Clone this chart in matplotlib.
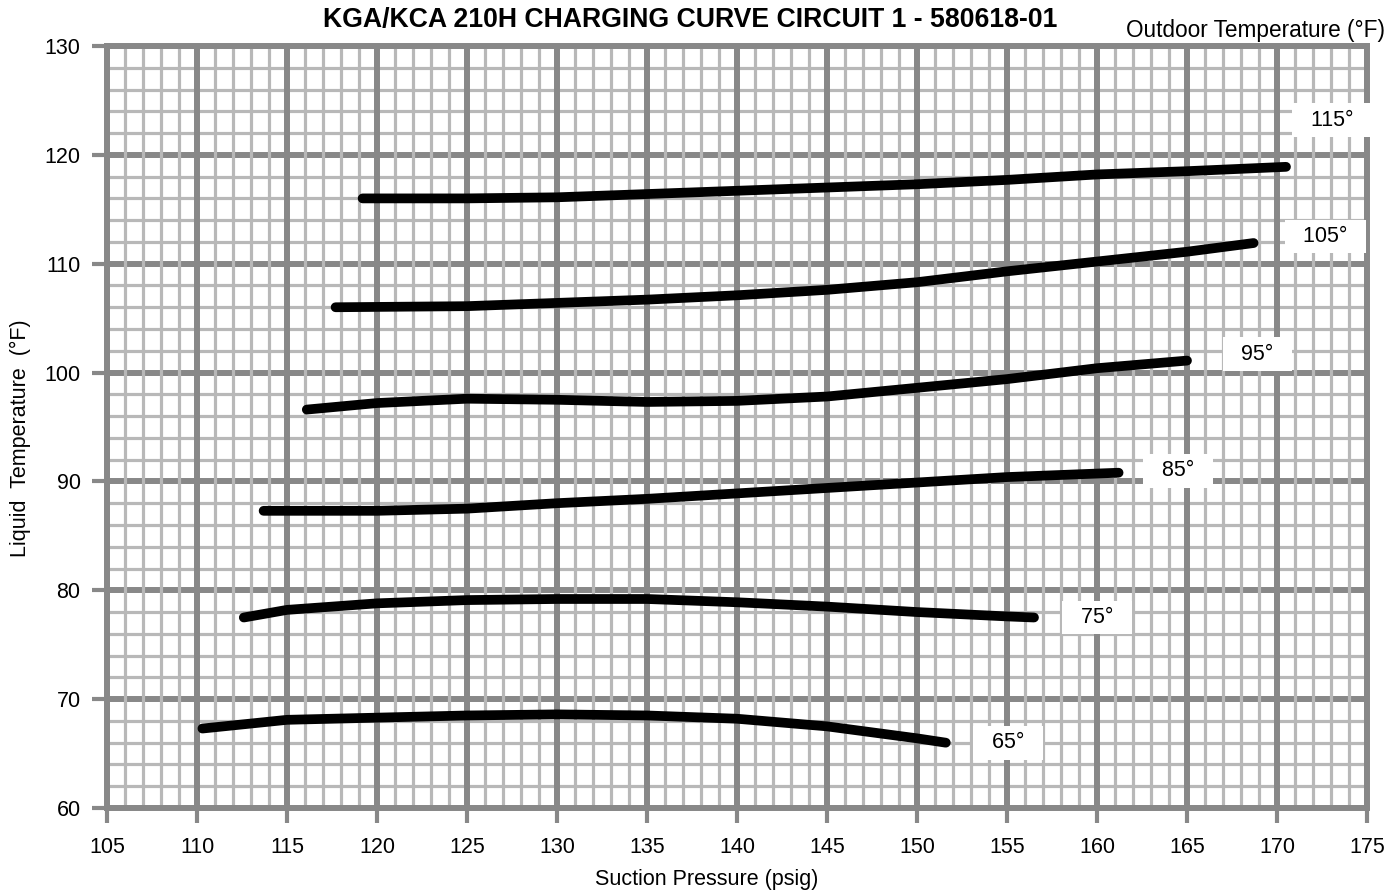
import matplotlib
matplotlib.use("Agg")
import matplotlib.pyplot as plt
import numpy as np
from matplotlib.ticker import MultipleLocator

plt.rcParams['font.family'] = ['Liberation Sans', 'DejaVu Sans']

title = "KGA/KCA 210H CHARGING CURVE CIRCUIT 1 - 580618-01"
x_label = "Suction Pressure (psig)"
y_label = "Liquid  Temperature  (°F)"
legend_title = "Outdoor Temperature (°F)"

# curves: outdoor temperature -> (suction pressure, liquid temperature)
x_65 = [110.3, 115, 120, 125, 130, 135, 140, 145, 150, 151.6]
y_65 = [67.3, 68.1, 68.3, 68.5, 68.6, 68.5, 68.2, 67.5, 66.4, 66.0]
x_75 = [112.6, 115, 120, 125, 130, 135, 140, 145, 150, 155, 156.5]
y_75 = [77.5, 78.2, 78.8, 79.1, 79.2, 79.2, 78.9, 78.5, 78.0, 77.6, 77.5]
x_85 = [113.7, 120, 125, 130, 135, 140, 145, 150, 155, 161.2]
y_85 = [87.3, 87.3, 87.5, 88.0, 88.4, 88.9, 89.4, 89.9, 90.4, 90.8]
x_95 = [116.1, 120, 125, 130, 135, 140, 145, 150, 155, 160, 165.0]
y_95 = [96.6, 97.2, 97.6, 97.5, 97.3, 97.4, 97.8, 98.6, 99.4, 100.4, 101.1]
x_105 = [117.7, 125, 130, 135, 140, 145, 150, 155, 160, 165, 168.7]
y_105 = [106.0, 106.1, 106.4, 106.7, 107.1, 107.6, 108.3, 109.3, 110.2, 111.1, 111.9]
x_115 = [119.2, 125, 130, 135, 140, 145, 150, 155, 160, 165, 170.5]
y_115 = [116.0, 116.0, 116.1, 116.4, 116.7, 117.0, 117.3, 117.7, 118.2, 118.5, 118.9]

curves_x = [x_65, x_75, x_85, x_95, x_105, x_115]
curves_y = [y_65, y_75, y_85, y_95, y_105, y_115]

labels = ["65°", "75°", "85°", "95°", "105°", "115°"]
label_x = [155.06, 160.0, 164.5, 168.9, 172.7, 173.06]
label_y = [66.0, 77.5, 91.0, 101.7, 112.5, 123.2]

xlim = (105, 175)
ylim = (60, 130)

W, H = 1392, 894
fig = plt.figure(figsize=(W / 100, H / 100), dpi=100)
ax = fig.add_axes([107 / W, 1 - 808 / H, (1367 - 107) / W, (808 - 46) / H])
ax.set_xlim(*xlim)
ax.set_ylim(*ylim)

major_c = "#888888"
minor_c = "#b8b8b8"

ax.xaxis.set_major_locator(MultipleLocator(5))
ax.xaxis.set_minor_locator(MultipleLocator(1))
ax.yaxis.set_major_locator(MultipleLocator(10))
ax.yaxis.set_minor_locator(MultipleLocator(2))

ax.grid(which="minor", color=minor_c, linewidth=2.3)
ax.grid(which="major", color=major_c, linewidth=4.3)
ax.set_axisbelow(True)
ax.yaxis.set_zorder(0.5)
ax.xaxis.set_zorder(0.6)

ax.tick_params(which="major", length=11, width=3.0, color=major_c,
               labelsize=15.5, pad=8)
ax.tick_params(axis="x", which="major", pad=10)
ax.tick_params(which="minor", length=0)
for s in ax.spines.values():
    s.set_color(major_c)
    s.set_linewidth(4.3)
    s.set_zorder(0.7)

for xs, ys in zip(curves_x, curves_y):
    ax.plot(xs, ys, color="black", linewidth=7, solid_capstyle="round",
            solid_joinstyle="round", zorder=3)

for t, lx, ly in zip(labels, label_x, label_y):
    ax.text(lx, ly, "  " + t + "  ", ha="center", va="center", fontsize=15.5,
            zorder=5, clip_on=False,
            bbox=dict(boxstyle="square,pad=0.3", facecolor="white", edgecolor="none"))

fig.text(690 / W, 1 - 20 / H, title, ha="center", va="center",
         fontsize=19.2, fontweight="bold")
fig.text(1385 / W, 1 - 30 / H, legend_title, ha="right", va="center", fontsize=16.3)
fig.text(707 / W, 1 - 879 / H, x_label, ha="center", va="center", fontsize=15.5)
fig.text(20 / W, 1 - 438 / H, y_label, ha="center", va="center", fontsize=15.5,
         rotation=90)

fig.savefig("out.png", dpi=100)
